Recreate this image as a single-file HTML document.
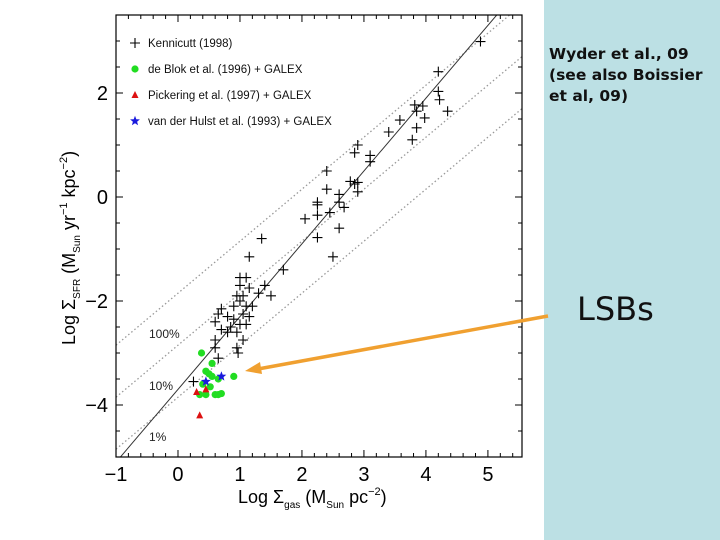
<!DOCTYPE html>
<html><head><meta charset="utf-8"><style>
body{margin:0;background:#fff;width:720px;height:540px;overflow:hidden;position:relative;font-family:"Liberation Sans",Arial,sans-serif}
#panel{position:absolute;left:544px;top:0;width:176px;height:540px;background:#bce0e4}
#note{position:absolute;left:549px;top:44px;font:bold 15.5px "DejaVu Sans",Verdana,sans-serif;line-height:21px;color:#111}
#lsb{position:absolute;left:577px;top:290px;font:32px "DejaVu Sans",Verdana,sans-serif;color:#111}
svg{position:absolute;left:0;top:0}
</style></head><body>
<div id="panel"></div>
<div id="note">Wyder et al., 09<br>(see also Boissier<br>et al, 09)</div>
<div id="lsb">LSBs</div>
<svg id="chart" width="720" height="540"></svg>
<script>
const xTicks=[-1,0,1,2,3,4,5];
const yTicks=[-4,-2,0,2];
const kennicutt=[[4.88,2.99],[4.2,2.41],[4.2,2.03],[4.22,1.87],[4.35,1.65],[3.82,1.77],[3.95,1.75],[3.85,1.65],[3.98,1.52],[3.85,1.33],[3.78,1.1],[3.58,1.48],[3.4,1.25],[3.1,0.8],[3.1,0.68],[2.9,1.0],[2.85,0.85],[2.9,0.28],[2.85,0.25],[2.9,0.1],[2.78,0.3],[2.6,0.05],[2.6,-0.1],[2.68,-0.2],[2.4,0.5],[2.4,0.15],[2.25,-0.15],[2.25,-0.1],[2.25,-0.35],[2.25,-0.78],[2.45,-0.3],[2.6,-0.6],[2.5,-1.15],[2.05,-0.42],[1.35,-0.8],[1.15,-1.15],[1.7,-1.4],[1.5,-1.9],[1.4,-1.7],[1.3,-1.85],[1.1,-1.55],[1.0,-1.55],[1.0,-1.7],[1.05,-1.9],[1.15,-1.75],[0.95,-1.9],[0.9,-2.1],[1.0,-2.0],[1.1,-2.1],[1.2,-2.1],[1.15,-2.3],[1.05,-2.25],[1.1,-2.45],[1.0,-2.45],[0.9,-2.35],[0.8,-2.3],[0.7,-2.15],[0.65,-2.25],[0.6,-2.4],[0.7,-2.55],[0.8,-2.6],[0.85,-2.5],[0.95,-2.6],[1.05,-2.75],[0.95,-2.9],[0.97,-3.0],[0.6,-2.75],[0.6,-2.9],[0.65,-3.1],[0.25,-3.55]];
const deBlok=[[0.38,-3.0],[0.55,-3.2],[0.45,-3.35],[0.5,-3.4],[0.55,-3.45],[0.65,-3.5],[0.9,-3.45],[0.4,-3.6],[0.52,-3.65],[0.35,-3.8],[0.6,-3.8],[0.65,-3.8],[0.7,-3.78],[0.45,-3.8]];
const pickering=[[0.3,-3.75],[0.45,-3.7],[0.35,-4.2]];
const vanDerHulst=[[0.45,-3.55],[0.7,-3.45]];
const efficiencyOffsets=[-1.85,-2.85,-3.85];
const efficiencyLabels=["100%","10%","1%"];
const ksSlope=1.4, ksIntercept=-3.7;

const NS="http://www.w3.org/2000/svg";
const svg=document.getElementById('chart');
const L=116,R=522,T=15,B=457,xmin=-1,xmax=5.55,ymin=-5,ymax=3.5;
const X=v=>L+(v-xmin)/(xmax-xmin)*(R-L);
const Y=v=>B-(v-ymin)/(ymax-ymin)*(B-T);
function mk(tag,attrs,parent){const e=document.createElementNS(NS,tag);for(const k in attrs)e.setAttribute(k,attrs[k]);(parent||svg).appendChild(e);return e;}
const defs=mk('defs',{});
const cp=mk('clipPath',{id:'clip'},defs);mk('rect',{x:L,y:T,width:R-L,height:B-T},cp);
const plot=mk('g',{'clip-path':'url(#clip)'});
efficiencyOffsets.forEach(o=>{
  const ln=mk('line',{x1:X(xmin),y1:Y(xmin+o),x2:X(xmax),y2:Y(xmax+o),stroke:'#999','stroke-width':1.3,'stroke-dasharray':'1.5,2.5'},plot);
  
  
});
const ks=mk('line',{x1:X(xmin),y1:Y(ksSlope*xmin+ksIntercept),x2:X(xmax),y2:Y(ksSlope*xmax+ksIntercept),stroke:'#333','stroke-width':1},plot);


const fr=mk('rect',{x:L,y:T,width:R-L,height:B-T,fill:'none',stroke:'#000','stroke-width':1.2});


for(let v=-1;v<=5.5001;v+=0.2){const maj=Math.abs(v-Math.round(v))<1e-6;const len=maj?7:4;const x=X(v);
 mk('line',{x1:x,y1:B,x2:x,y2:B-len,stroke:'#000'});mk('line',{x1:x,y1:T,x2:x,y2:T+len,stroke:'#000'});}
for(let v=-4.5;v<=3.5001;v+=0.5){const maj=Math.abs(v/2-Math.round(v/2))<1e-6;const len=maj?7:4;const y=Y(v);
 mk('line',{x1:L,y1:y,x2:L+len,y2:y,stroke:'#000'});mk('line',{x1:R,y1:y,x2:R-len,y2:y,stroke:'#000'});}
xTicks.forEach(v=>{const t=mk('text',{x:X(v),y:B+24,'text-anchor':'middle','font-size':20,fill:'#000'});t.textContent=v<0?'\u2212'+(-v):v;
 });
yTicks.forEach(v=>{const t=mk('text',{x:L-8,y:Y(v)+7,'text-anchor':'end','font-size':20,fill:'#000'});t.textContent=v<0?'\u2212'+(-v):v;
 });
const effPos=[[149,338],[149,390],[149,441]];
efficiencyLabels.forEach((s,i)=>{const t=mk('text',{x:effPos[i][0],y:effPos[i][1],'font-size':12,fill:'#222'});t.textContent=s;
 });
function cross(x,y,g){const p=mk('path',{d:`M${x-5},${y}h10M${x},${y-5}v10`,stroke:'#000','stroke-width':1.1},g);return p;}
function circ(x,y,g){return mk('circle',{cx:x,cy:y,r:3.6,fill:'#22dd22'},g);}
function tri(x,y,g){return mk('path',{d:`M${x},${y-4}L${x+3.5},${y+3}L${x-3.5},${y+3}Z`,fill:'#dd1111'},g);}
function star(x,y,g){let d='';for(let i=0;i<10;i++){const r=i%2?2.2:5.2,a=-Math.PI/2+i*Math.PI/5;d+=(i?'L':'M')+(x+r*Math.cos(a)).toFixed(1)+','+(y+r*Math.sin(a)).toFixed(1);}return mk('path',{d:d+'Z',fill:'#1a1add'},g);}
kennicutt.forEach(p=>{const e=cross(X(p[0]),Y(p[1]),plot);});
deBlok.forEach(p=>{const e=circ(X(p[0]),Y(p[1]),plot);});
pickering.forEach(p=>{const e=tri(X(p[0]),Y(p[1]),plot);});
vanDerHulst.forEach(p=>{const e=star(X(p[0]),Y(p[1]),plot);});
const leg=[['Kennicutt (1998)',cross],['de Blok et al. (1996) + GALEX',circ],['Pickering et al. (1997) + GALEX',tri],['van der Hulst et al. (1993) + GALEX',star]];
leg.forEach((l,i)=>{const y=43+i*26;l[1](135,y,svg);const t=mk('text',{x:148,y:y+4,'font-size':11.5,fill:'#111'});t.textContent=l[0];
 });
const xt=mk('text',{x:238,y:503,'font-size':18,fill:'#000'});
xt.innerHTML='Log \u03A3<tspan font-size="10" dy="5">gas</tspan><tspan dy="-5"> (M</tspan><tspan font-size="10" dy="5">Sun</tspan><tspan dy="-5"> pc</tspan><tspan font-size="11" dy="-8">\u22122</tspan><tspan dy="8">)</tspan>';

const yt=mk('text',{x:0,y:0,'font-size':18,fill:'#000',transform:'translate(75,345) rotate(-90)'});
yt.innerHTML='Log \u03A3<tspan font-size="10" dy="5">SFR</tspan><tspan dy="-5"> (M</tspan><tspan font-size="10" dy="5">Sun</tspan><tspan dy="-5"> yr</tspan><tspan font-size="11" dy="-8">\u22121</tspan><tspan dy="8"> kpc</tspan><tspan font-size="11" dy="-8">\u22122</tspan><tspan dy="8">)</tspan>';

const ar=mk('g',{});
mk('line',{x1:548,y1:316,x2:258,y2:369,stroke:'#f0a030','stroke-width':3.5},ar);
mk('path',{d:'M245,371 L260,362 L262,374 Z',fill:'#f0a030'},ar);

</script>
</body></html>
